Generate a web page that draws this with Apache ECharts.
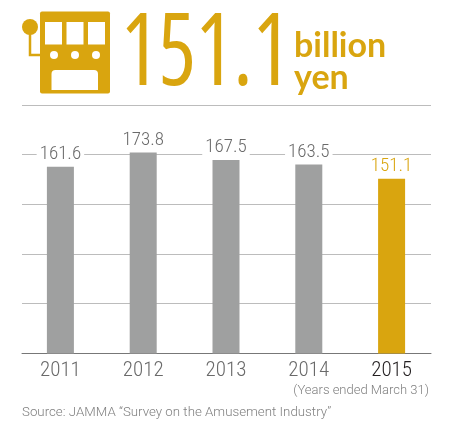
<!DOCTYPE html>
<html>
<head>
<meta charset="utf-8">
<style>html,body{margin:0;padding:0;background:#fff}#chart{width:471px;height:421px}</style>
<script src="https://cdn.jsdelivr.net/npm/echarts@6/dist/echarts.min.js"></script>
</head>
<body>
<div id="chart"></div>
<script>
const years = ['2011', '2012', '2013', '2014', '2015'];
const marketSize = [161.6, 173.8, 167.5, 163.5, 151.1];
const headline = '151.1';
const headlineUnit = ['billion', 'yen'];
const yearNote = '(Years ended March 31)';
const sourceNote = 'Source: JAMMA \u201cSurvey on the Amusement Industry\u201d';

const GOLD = '#d9a50f';
const GREY_BAR = '#9fa0a0';
const GREY_TEXT = '#6a6a6a';
const NOTE_TEXT = '#808080';
const RULE = '#bcbcbc';
const CONDENSED = '350 condensed';
const AXIS_MAX = 172.6;
const AXIS_STEP = 43.15;

const chart = echarts.init(document.getElementById('chart'));
const lastIndex = years.length - 1;

// Slot machine pictogram beside the headline figure
const slotIcon = [
  { type: 'circle', shape: { cx: 30, cy: 27, r: 8 }, style: { fill: GOLD } },
  { type: 'polyline', shape: { points: [[30, 33], [30, 55], [42, 55]] }, style: { stroke: GOLD, lineWidth: 2.5, fill: null } },
  { type: 'rect', shape: { x: 40, y: 11.5, width: 70, height: 82, r: 2 }, style: { fill: GOLD } },
  { type: 'rect', shape: { x: 45, y: 22, width: 17, height: 22.5 }, style: { fill: '#fff' } },
  { type: 'rect', shape: { x: 66.5, y: 22, width: 17, height: 22.5 }, style: { fill: '#fff' } },
  { type: 'rect', shape: { x: 88, y: 22, width: 17, height: 22.5 }, style: { fill: '#fff' } },
  { type: 'circle', shape: { cx: 54, cy: 55, r: 4 }, style: { fill: '#fff' } },
  { type: 'circle', shape: { cx: 75, cy: 55, r: 4 }, style: { fill: '#fff' } },
  { type: 'circle', shape: { cx: 96, cy: 55, r: 4 }, style: { fill: '#fff' } },
  { type: 'rect', shape: { x: 51.5, y: 70, width: 46.5, height: 20, r: [4, 4, 0, 0] }, style: { fill: '#fff' } }
];

chart.setOption({
  animation: false,
  backgroundColor: '#fff',
  // First grid carries the bars and year labels, second one only the rules
  grid: [
    { left: 19, right: 38, top: 154, bottom: 67.5 },
    { left: 22, right: 40, top: 154, bottom: 67.5 }
  ],
  xAxis: [
    {
      type: 'category',
      gridIndex: 0,
      data: years.map((y, i) => (i === lastIndex
        ? { value: y, textStyle: { color: '#231f20' } }
        : y)),
      axisTick: { show: false },
      axisLine: { show: false },
      axisLabel: {
        margin: 7,
        fontFamily: 'Roboto',
        fontWeight: CONDENSED,
        fontSize: 21,
        color: GREY_TEXT
      }
    },
    {
      type: 'category',
      gridIndex: 1,
      data: years,
      axisTick: { show: false },
      axisLabel: { show: false },
      axisLine: { lineStyle: { color: '#777', width: 1 } }
    }
  ],
  yAxis: [
    {
      type: 'value',
      gridIndex: 0,
      min: 0,
      max: AXIS_MAX,
      interval: AXIS_STEP,
      axisLine: { show: false },
      axisTick: { show: false },
      axisLabel: { show: false },
      splitLine: { show: false }
    },
    {
      type: 'value',
      gridIndex: 1,
      min: 0,
      max: AXIS_MAX,
      interval: AXIS_STEP,
      axisLine: { show: false },
      axisTick: { show: false },
      axisLabel: { show: false },
      splitLine: { lineStyle: { color: RULE, width: 1 } }
    }
  ],
  series: [{
    type: 'bar',
    xAxisIndex: 0,
    yAxisIndex: 0,
    clip: false,
    barWidth: 27,
    data: marketSize.map((v, i) => ({
      value: v,
      itemStyle: { color: i === lastIndex ? GOLD : GREY_BAR },
      label: { color: i === lastIndex ? GOLD : GREY_TEXT }
    })),
    label: {
      show: true,
      position: 'top',
      distance: 3,
      fontFamily: 'Roboto',
      fontWeight: CONDENSED,
      fontSize: 19,
      backgroundColor: '#fff',
      padding: [0, 3],
      formatter: (p) => p.value.toFixed(1)
    }
  }],
  graphic: [
    ...slotIcon,
    { type: 'line', shape: { x1: 22, y1: 105.5, x2: 431, y2: 105.5 }, style: { stroke: RULE, lineWidth: 1 } },
    { type: 'text', x: 121, y: 107, scaleX: 0.88, style: { text: headline, fontFamily: 'Open Sans', fontWeight: '400 condensed', fontSize: 100, fill: GOLD, verticalAlign: 'bottom' } },
    { type: 'text', x: 294, y: 63, style: { text: headlineUnit[0], fontFamily: 'Lato', fontWeight: 700, fontSize: 34, fill: GOLD, verticalAlign: 'bottom' } },
    { type: 'text', x: 294, y: 95, style: { text: headlineUnit[1], fontFamily: 'Lato', fontWeight: 700, fontSize: 34, fill: GOLD, verticalAlign: 'bottom' } },
    { type: 'text', x: 429, y: 391, style: { text: yearNote, fontFamily: 'Roboto', fontWeight: '300', fontSize: 13, fill: NOTE_TEXT, align: 'right', verticalAlign: 'middle' } },
    { type: 'text', x: 22, y: 413, style: { text: sourceNote, fontFamily: 'Roboto', fontWeight: '300', fontSize: 13.3, fill: NOTE_TEXT, verticalAlign: 'middle' } }
  ]
});
</script>
</body>
</html>
